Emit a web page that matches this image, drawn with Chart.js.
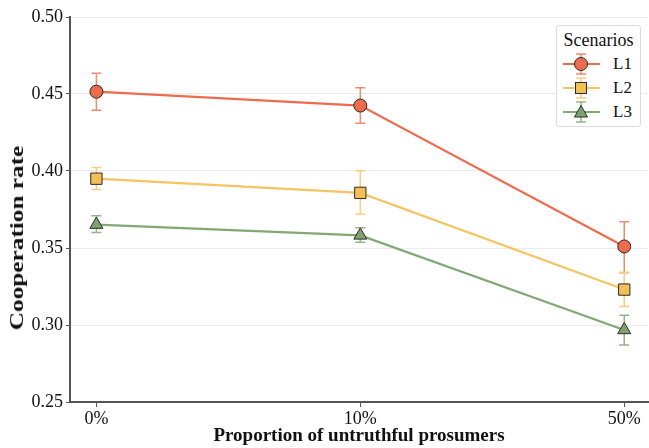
<!DOCTYPE html>
<html>
<head>
<meta charset="utf-8">
<script src="https://cdn.jsdelivr.net/npm/chart.js@4/dist/chart.umd.min.js"></script>
<style>
  html, body { margin: 0; padding: 0; background: #fff; }
  #wrap { position: relative; width: 649px; height: 448px; }
  #legend {
    position: absolute; left: 556px; top: 25px; width: 83px; height: 100px;
    border: 1px solid #dcdcdc; border-radius: 3px; background: #fff;
    font-family: "Liberation Serif", "Times New Roman", serif; color: #111;
  }
  #legend .ttl { font-size: 18px; text-align: center; margin-top: 3px; line-height: 22px; }
  #legend .row { position: absolute; left: 6px; height: 22px; display: flex; align-items: center; }
  #legend .row span { font-size: 17px; margin-left: 13px; }
  #ytitle {
    position: absolute; left: 17px; top: 238px;
    transform: translate(-50%, -50%) rotate(-90deg) scaleX(1.33);
    white-space: nowrap; font: bold 19px "Liberation Serif", "Times New Roman", serif;
    color: #111;
  }
</style>
</head>
<body>
<div id="wrap">
  <canvas id="c" width="649" height="448"></canvas>
  <div id="ytitle">Cooperation rate</div>
  <div id="legend"><div class="ttl">Scenarios</div></div>
</div>
<script>
// categories on the x axis
const categories = ['0%', '10%', '50%'];
const yTicks = [0.25, 0.30, 0.35, 0.40, 0.45, 0.50];

// series: mean, lower and upper end of error bar
const l1Mean = [0.4515, 0.4425, 0.3510];
const l1Low  = [0.4395, 0.4310, 0.3340];
const l1High = [0.4635, 0.4540, 0.3670];

const l2Mean = [0.3950, 0.3858, 0.3230];
const l2Low  = [0.3880, 0.3720, 0.3120];
const l2High = [0.4022, 0.4002, 0.3342];

const l3Mean = [0.3652, 0.3582, 0.2968];
const l3Low  = [0.3600, 0.3537, 0.2870];
const l3High = [0.3710, 0.3632, 0.3063];

const SERIES = [
  { label: 'L1', mean: l1Mean, low: l1Low, high: l1High, line: '#EE6C4D', fill: '#EE6C4D', err: '#F08A71', style: 'circle', r: 6.5 },
  { label: 'L2', mean: l2Mean, low: l2Low, high: l2High, line: '#F6C461', fill: '#F5BF58', err: '#F8CE7E', style: 'rect', r: 8 },
  { label: 'L3', mean: l3Mean, low: l3Low, high: l3High, line: '#82A873', fill: '#7FA36F', err: '#93B487', style: 'triangle', r: 7.5 },
];

const SERIF = '"Liberation Serif", "Times New Roman", serif';

const errorBars = {
  id: 'errorBars',
  beforeDatasetsDraw(chart) {
    const { ctx, scales: { x, y } } = chart;
    ctx.save();
    ctx.lineWidth = 1.5;
    SERIES.forEach((s) => {
      ctx.strokeStyle = s.err;
      s.mean.forEach((_, i) => {
        const px = x.getPixelForValue(i);
        const yl = y.getPixelForValue(s.low[i]);
        const yh = y.getPixelForValue(s.high[i]);
        ctx.beginPath();
        ctx.moveTo(px, yl); ctx.lineTo(px, yh);
        ctx.moveTo(px - 5, yl); ctx.lineTo(px + 5, yl);
        ctx.moveTo(px - 5, yh); ctx.lineTo(px + 5, yh);
        ctx.stroke();
      });
    });
    ctx.restore();
  }
};

const datasets = SERIES.map((s) => ({
  label: s.label,
  data: s.mean.map((v, i) => ({ x: i, y: v })),
  borderColor: s.line,
  borderWidth: 2.2,
  pointStyle: s.style,
  pointRadius: s.r,
  pointBackgroundColor: s.fill,
  pointBorderColor: '#2b2b2b',
  pointBorderWidth: 1,
  tension: 0,
}));

new Chart(document.getElementById('c'), {
  type: 'line',
  data: { datasets },
  plugins: [errorBars],
  options: {
    responsive: false,
    animation: false,
    layout: { autoPadding: false, padding: { top: 17, right: 1, left: 0, bottom: 0 } },
    plugins: { legend: { display: false }, tooltip: { enabled: false } },
    scales: {
      x: {
        type: 'linear', min: -0.1, max: 2.09,
        afterBuildTicks: (sc) => { sc.ticks = categories.map((_, i) => ({ value: i })); },
        afterFit: (sc) => { sc.height = 46; },
        ticks: {
          color: '#111', font: { family: SERIF, size: 18 }, padding: 1,
          callback: (v) => categories[v] ?? '',
        },
        grid: { drawOnChartArea: false, drawTicks: true, tickLength: 5, color: '#555', lineWidth: 1 },
        border: { display: true, color: '#555', width: 2 },
        title: { display: true, text: 'Proportion of untruthful prosumers', color: '#111',
          font: { family: SERIF, size: 19, weight: 'bold' }, padding: { top: 0, bottom: 1 } },
      },
      y: {
        min: 0.25, max: 0.50,
        afterBuildTicks: (sc) => { sc.ticks = yTicks.map((v) => ({ value: v })); },
        afterFit: (sc) => { sc.width = 70; },
        ticks: { color: '#111', font: { family: SERIF, size: 18 }, padding: 3,
          callback: (v) => v.toFixed(2) },
        grid: { color: '#ebebeb', lineWidth: 1, drawTicks: true, tickLength: 4, tickColor: '#555' },
        border: { display: true, color: '#555', width: 2 },
        title: { display: false },
      },
    },
  },
});

// legend with line + error bar + marker icons
const legendEl = document.getElementById('legend');
const shapes = {
  circle: '<circle cx="18" cy="11" r="6.5"/>',
  rect: '<rect x="12.5" y="5.5" width="11" height="11"/>',
  triangle: '<polygon points="18,4.5 24.5,16 11.5,16"/>',
};
SERIES.forEach((s, i) => {
  const row = document.createElement('div');
  row.className = 'row';
  row.style.top = (27 + i * 24) + 'px';
  row.innerHTML =
    `<svg width="37" height="22" viewBox="0 0 37 22">` +
    `<g stroke="${s.err}" stroke-width="1.5"><line x1="18" y1="1" x2="18" y2="21"/>` +
    `<line x1="13" y1="1" x2="23" y2="1"/><line x1="13" y1="21" x2="23" y2="21"/></g>` +
    `<line x1="0" y1="11" x2="37" y2="11" stroke="${s.line}" stroke-width="2.2"/>` +
    `<g fill="${s.fill}" stroke="#2b2b2b" stroke-width="1">${shapes[s.style]}</g></svg>` +
    `<span>${s.label}</span>`;
  legendEl.appendChild(row);
});
</script>
</body>
</html>
